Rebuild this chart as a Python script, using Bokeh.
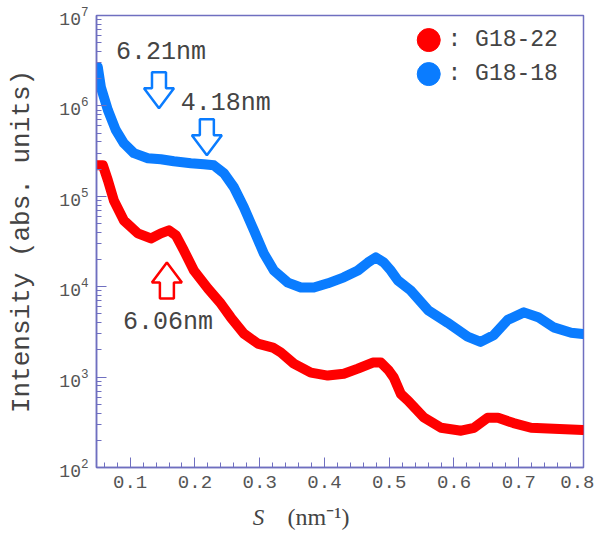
from bokeh.plotting import figure
from bokeh.embed import file_html
from bokeh.resources import INLINE
from bokeh.layouts import column
from bokeh.models import Range1d, FixedTicker
from bokeh.core.properties import value
import numpy as np

# ---------------- data ----------------
s_blue = [0.050, 0.0548, 0.0656, 0.0779, 0.0903, 0.1057, 0.1273, 0.1474, 0.1675, 0.1937,
          0.2138, 0.2292, 0.2447, 0.2601, 0.2755, 0.291, 0.3064, 0.3219, 0.3435, 0.3636,
          0.3836, 0.4052, 0.4299, 0.4516, 0.467, 0.4793, 0.4917, 0.5025, 0.513, 0.533,
          0.560, 0.590, 0.621, 0.641, 0.661, 0.683, 0.708, 0.730, 0.754, 0.781, 0.799]
I_blue = [2.7e6, 1.61e6, 8.97e5, 5.38e5, 3.86e5, 3.0e5, 2.64e5, 2.57e5, 2.44e5, 2.32e5,
          2.26e5, 2.2e5, 1.8e5, 1.26e5, 7.55e4, 4.2e4, 2.33e4, 1.51e4, 1.11e4, 9.8e3,
          9.8e3, 1.09e4, 1.27e4, 1.51e4, 1.85e4, 2.11e4, 1.85e4, 1.51e4, 1.18e4, 9.1e3,
          5.5e3, 4.0e3, 2.8e3, 2.45e3, 2.9e3, 4.3e3, 5.2e3, 4.6e3, 3.55e3, 3.1e3, 3.0e3]

s_red = [0.048, 0.0579, 0.0656, 0.0748, 0.0903, 0.1119, 0.132, 0.1474, 0.1598, 0.1706,
         0.1829, 0.1984, 0.220, 0.240, 0.2555, 0.2755, 0.297, 0.3203, 0.3327, 0.3527,
         0.379, 0.4052, 0.4299, 0.4516, 0.4747, 0.487, 0.4994, 0.507, 0.518, 0.529,
         0.553, 0.580, 0.611, 0.631, 0.652, 0.668, 0.692, 0.719, 0.745, 0.799]
I_red = [2.2e5, 2.2e5, 1.5e5, 9.0e4, 5.4e4, 3.89e4, 3.42e4, 3.89e4, 4.2e4, 3.7e4,
         2.52e4, 1.51e4, 9.55e3, 6.5e3, 4.56e3, 3.03e3, 2.35e3, 2.12e3, 1.87e3, 1.41e3,
         1.12e3, 1.04e3, 1.09e3, 1.24e3, 1.45e3, 1.45e3, 1.18e3, 9.9e2, 6.5e2, 5.5e2,
         3.6e2, 2.75e2, 2.55e2, 2.75e2, 3.55e2, 3.55e2, 3.1e2, 2.75e2, 2.7e2, 2.6e2]

series_names = [": G18-22", ": G18-18"]
x_ticks = [0.1, 0.2, 0.3, 0.4, 0.5, 0.6, 0.7, 0.8]
x_label_parts = ["S", "(nm⁻¹)"]

# annotation anchors (data space)
peak_labels = ["6.21nm", "4.18nm", "6.06nm"]
peak_label_s = [0.078, 0.178, 0.089]
peak_label_I = [3.9e6, 1.07e6, 4.0e3]
arrow_tip_s = [0.1445, 0.2184, 0.1567]
arrow_tip_I = [9.4e5, 2.85e5, 1.85e4]
arrow_dir = [-1, -1, 1]   # -1 points down, +1 points up

RED = "#ff0000"
BLUE = "#0a7cff"
AXIS = "#6f6fc0"
TXT = "#444444"
MONO = "Liberation Mono"
SERIF = "Liberation Serif"
arrow_colors = [BLUE, BLUE, RED]

X0, X1 = 0.048, 0.8
Y0, Y1 = 1e2, 1e7
FW, FH = 487, 452

p = figure(frame_width=FW, frame_height=FH, y_axis_type="log",
           x_range=Range1d(X0, X1), y_range=Range1d(Y0, Y1),
           output_backend="svg", toolbar_location=None,
           min_border_left=96, min_border_right=11, min_border_top=15,
           min_border_bottom=32)
p.background_fill_color = "white"
p.border_fill_color = "white"
p.outline_line_color = AXIS
p.outline_line_width = 1.5
p.xgrid.visible = False
p.ygrid.visible = False

for ax in (p.xaxis[0], p.yaxis[0]):
    ax.axis_line_color = AXIS
    ax.axis_line_width = 1.5
    ax.major_tick_line_color = AXIS
    ax.minor_tick_line_color = AXIS
    ax.major_tick_in = 10
    ax.major_tick_out = 0
    ax.minor_tick_in = 5
    ax.minor_tick_out = 0
    ax.major_label_text_font = MONO
    ax.major_label_text_color = "#555555"

p.xaxis.ticker = FixedTicker(ticks=x_ticks,
                             minor_ticks=[round(v, 2) for v in np.arange(0.06, 0.8001, 0.02)])
p.xaxis.major_label_text_font_size = "19px"
p.xaxis.major_label_standoff = 8

p.yaxis.major_label_text_font_size = "18px"
p.yaxis.major_label_standoff = 8
p.yaxis.axis_label = "Intensity (abs. units)"
p.yaxis.axis_label_text_font = MONO
p.yaxis.axis_label_text_font_size = "26px"
p.yaxis.axis_label_text_font_style = "normal"
p.yaxis.axis_label_text_color = TXT
p.yaxis.axis_label_standoff = 19

# curves
p.line(s_blue, I_blue, line_color=BLUE, line_width=10, line_join="round", line_cap="round")
p.line(s_red, I_red, line_color=RED, line_width=10, line_join="round", line_cap="round")

# hollow block arrows (shape in pixels converted to data space)
px_per_x = FW / (X1 - X0)
px_per_dec = FH / (np.log10(Y1) - np.log10(Y0))
shape = [(0, 0), (15, 20), (7, 20), (7, 36), (-7, 36), (-7, 20), (-15, 20)]
xs, ys = [], []
for s0, i0, d in zip(arrow_tip_s, arrow_tip_I, arrow_dir):
    xs.append([s0 + dx / px_per_x for dx, dy in shape])
    ys.append([i0 * 10 ** ((-d) * dy / px_per_dec) for dx, dy in shape])
p.patches(xs, ys, fill_color="white", line_color=arrow_colors, line_width=2.5)

p.text(peak_label_s, peak_label_I, text=peak_labels, text_font=value(MONO),
       text_font_size="25px", text_color=TXT, text_align="left", text_baseline="middle")

# legend
leg_s = 0.561
leg_I = [5.35e6, 2.25e6]
p.scatter([leg_s, leg_s], leg_I, size=23, color=[RED, BLUE])
p.text([0.590, 0.590], leg_I, text=series_names, text_font=value(MONO),
       text_font_size="23px", text_color=TXT, text_align="left", text_baseline="middle")

# x-axis title strip below the plot:  S (nm⁻¹)
q = figure(frame_width=FW, frame_height=35, x_range=p.x_range, y_range=Range1d(0, 1),
           x_axis_type=None, y_axis_type=None, output_backend="svg",
           toolbar_location=None, min_border_left=96, min_border_right=11,
           min_border_top=0, min_border_bottom=0)
q.outline_line_color = None
q.xgrid.visible = False
q.ygrid.visible = False
q.text([0.298], [0.5], text=[x_label_parts[0]], text_font=value(SERIF),
       text_font_style="italic", text_font_size="23px", text_color=TXT,
       text_align="center", text_baseline="middle")
q.text([0.343], [0.5], text=[x_label_parts[1]], text_font=value(SERIF),
       text_font_size="24px", text_color=TXT,
       text_align="left", text_baseline="middle")

open("out.html", "w").write(file_html(column(p, q, spacing=0), INLINE))
